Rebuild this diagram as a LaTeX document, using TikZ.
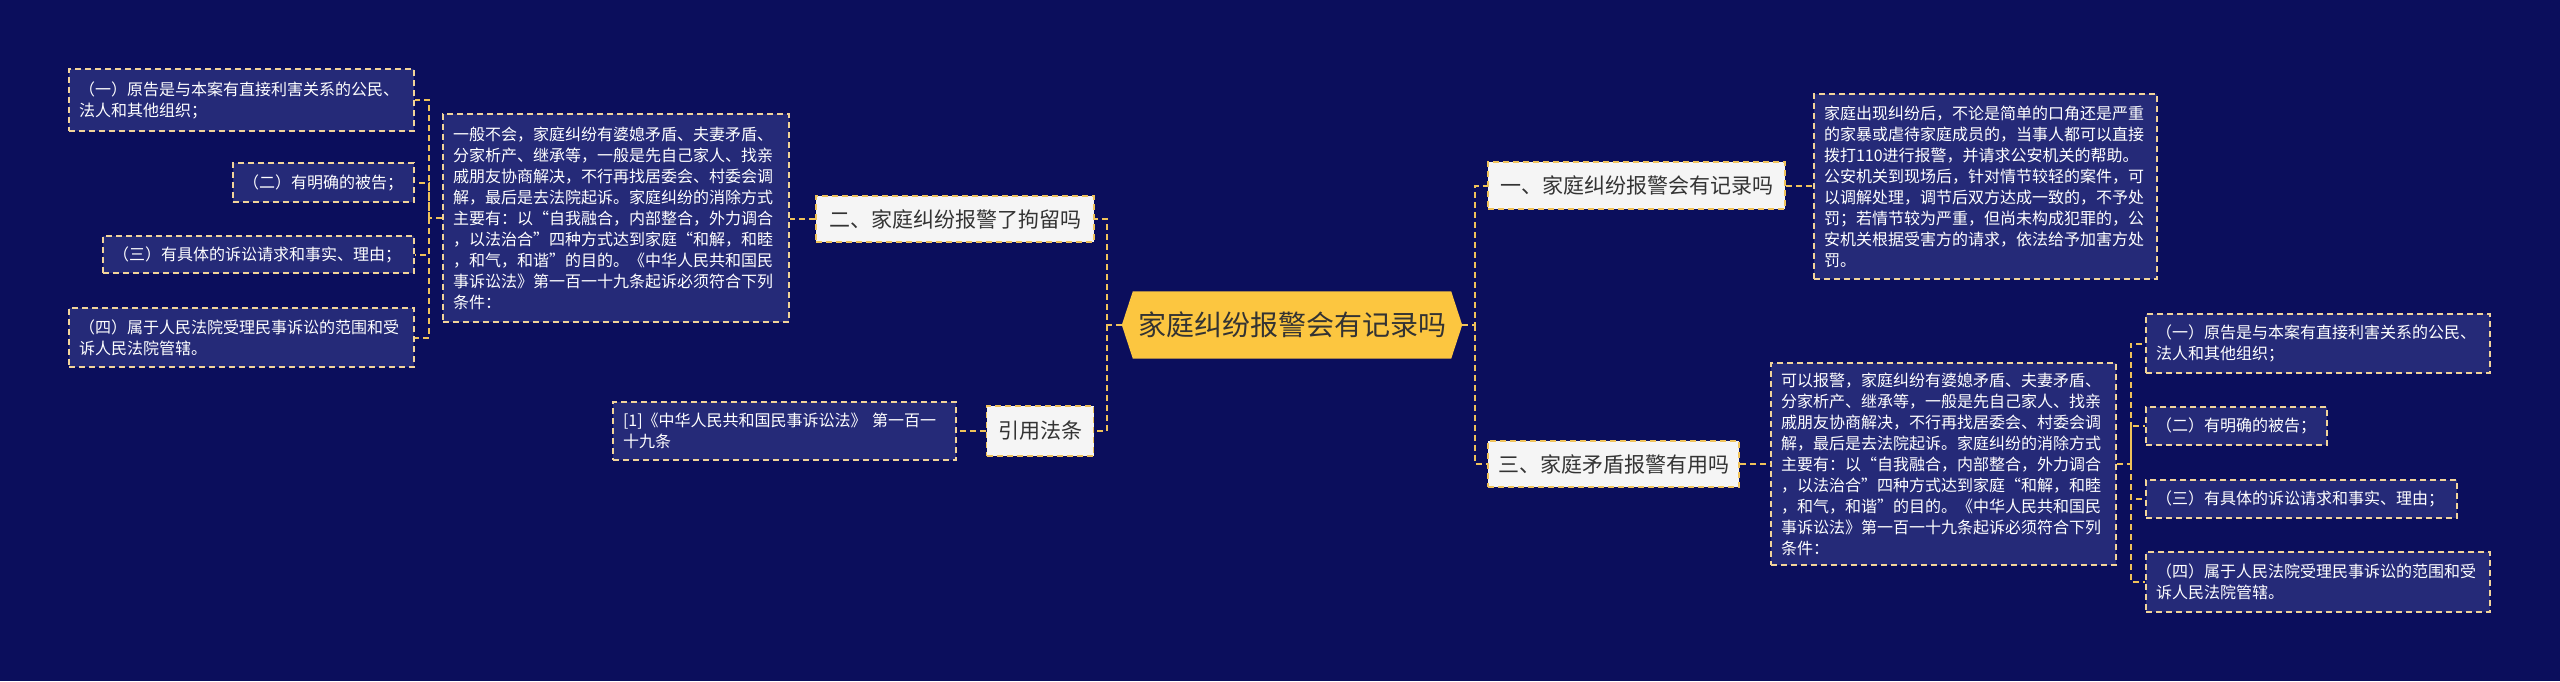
\documentclass[tikz,border=0pt]{standalone}
\usepackage{fontspec}
\setmainfont{Noto Sans CJK SC}
\usetikzlibrary{backgrounds}
\definecolor{bgc}{HTML}{0B0E5C}
\definecolor{boxc}{HTML}{252A78}
\definecolor{linec}{HTML}{EFC25A}
\definecolor{bordc}{HTML}{F2D49A}
\definecolor{goldc}{HTML}{FCC640}
\definecolor{lightc}{HTML}{F5F5F5}
\definecolor{darkt}{HTML}{333333}
\tikzset{
  conn/.style={draw=linec, line width=2pt, dash pattern=on 6pt off 4pt},
  txtbox/.style={draw=bordc, fill=boxc, line width=1.6pt, dash pattern=on 6pt off 4pt,
    text=white, align=left, inner xsep=10pt, inner ysep=0pt,
    font=\fontsize{16}{21}\selectfont},
  topic/.style={draw=linec, fill=lightc, line width=1.6pt, dash pattern=on 6pt off 4pt,
    text=darkt, align=center, inner sep=0pt,
    font=\fontsize{21}{26}\selectfont},
}
\begin{document}
\begin{tikzpicture}[x=1pt,y=-1pt]
\useasboundingbox (0,0) rectangle (2560,681);

% central
\node[inner sep=0pt, minimum width=340pt, minimum height=67pt, text=darkt,
  font=\fontsize{28}{34}\selectfont] (c) at (1292,325) {家庭纠纷报警会有记录吗};
\begin{scope}[on background layer]
\fill[bgc] (0,0) rectangle (2560,681);
\fill[goldc] (c.west) -- ([xshift=11pt]c.north west) -- ([xshift=-11pt]c.north east)
  -- (c.east) -- ([xshift=-11pt]c.south east) -- ([xshift=11pt]c.south west) -- cycle;
\end{scope}

% left side
\node[topic, minimum width=278pt, minimum height=46pt] (n2) at (955,219) {二、家庭纠纷报警了拘留吗};
\node[topic, minimum width=107pt, minimum height=50pt] (cite) at (1040,431) {引用法条};

\node[txtbox, text width=326pt, minimum height=208pt] (t2) at (616,218) {一般不会，家庭纠纷有婆媳矛盾、夫妻矛盾、\\分家析产、继承等，一般是先自己家人、找亲\\戚朋友协商解决，不行再找居委会、村委会调\\解，最后是去法院起诉。家庭纠纷的消除方式\\主要有：以“自我融合，内部整合，外力调合\\，以法治合”四种方式达到家庭“和解，和睦\\，和气，和谐”的目的。《中华人民共和国民\\事诉讼法》第一百一十九条起诉必须符合下列\\条件：};

\node[txtbox, text width=323pt, minimum height=58pt] (ref) at (784.5,431) {[1]《中华人民共和国民事诉讼法》 第一百一\\十九条};

\node[txtbox, text width=325pt, minimum height=62pt] (l1) at (241.5,100) {（一）原告是与本案有直接利害关系的公民、\\法人和其他组织；};
\node[txtbox, text width=161pt, minimum height=39pt] (l2) at (323.5,182.5) {（二）有明确的被告；};
\node[txtbox, text width=291pt, minimum height=37pt] (l3) at (258.5,254.5) {（三）有具体的诉讼请求和事实、理由；};
\node[txtbox, text width=325pt, minimum height=59pt] (l4) at (241.5,337.5) {（四）属于人民法院受理民事诉讼的范围和受\\诉人民法院管辖。};

% right side
\node[topic, minimum width=297pt, minimum height=47pt] (n1) at (1636.5,185.5) {一、家庭纠纷报警会有记录吗};
\node[topic, minimum width=251pt, minimum height=46pt] (n3) at (1613.5,464) {三、家庭矛盾报警有用吗};

\node[txtbox, text width=323pt, minimum height=185pt] (t1) at (1985.5,186.5) {家庭出现纠纷后，不论是简单的口角还是严重\\的家暴或虐待家庭成员的，当事人都可以直接\\拨打110进行报警，并请求公安机关的帮助。\\公安机关到现场后，针对情节较轻的案件，可\\以调解处理，调节后双方达成一致的，不予处\\罚；若情节较为严重，但尚未构成犯罪的，公\\安机关根据受害方的请求，依法给予加害方处\\罚。};

\node[txtbox, text width=325pt, minimum height=202pt] (t3) at (1943.5,464) {可以报警，家庭纠纷有婆媳矛盾、夫妻矛盾、\\分家析产、继承等，一般是先自己家人、找亲\\戚朋友协商解决，不行再找居委会、村委会调\\解，最后是去法院起诉。家庭纠纷的消除方式\\主要有：以“自我融合，内部整合，外力调合\\，以法治合”四种方式达到家庭“和解，和睦\\，和气，和谐”的目的。《中华人民共和国民\\事诉讼法》第一百一十九条起诉必须符合下列\\条件：};

\node[txtbox, text width=324pt, minimum height=59pt] (r1) at (2318,343.5) {（一）原告是与本案有直接利害关系的公民、\\法人和其他组织；};
\node[txtbox, text width=161pt, minimum height=38pt] (r2) at (2236.5,426) {（二）有明确的被告；};
\node[txtbox, text width=291pt, minimum height=38pt] (r3) at (2301.5,499) {（三）有具体的诉讼请求和事实、理由；};
\node[txtbox, text width=324pt, minimum height=60pt] (r4) at (2318,582) {（四）属于人民法院受理民事诉讼的范围和受\\诉人民法院管辖。};

% connectors
\coordinate (cl) at (1107,325);
\coordinate (cr) at (1475,325);
\draw[conn] (c.west) -- (cl) |- (n2.east);
\draw[conn] (cl) |- (cite.east);
\draw[conn] (c.east) -- (cr) |- (n1.west);
\draw[conn] (cr) |- (n3.west);

\draw[conn] (n2.west) -- (n2.west -| t2.east);
\draw[conn] (cite.west) -- (cite.west -| ref.east);
\draw[conn] (n1.east) -- (n1.east -| t1.west);
\draw[conn] (n3.east) -- (n3.east -| t3.west);

\coordinate (ll) at (429,218);
\draw[conn] (t2.west) -- (ll) |- (l1.east);
\draw[conn] (ll) |- (l2.east);
\draw[conn] (ll) |- (l3.east);
\draw[conn] (ll) |- (l4.east);

\coordinate (rr) at (2131,464);
\draw[conn] (t3.east) -- (rr) |- (r1.west);
\draw[conn] (rr) |- (r2.west);
\draw[conn] (rr) |- (r3.west);
\draw[conn] (rr) |- (r4.west);
\end{tikzpicture}
\end{document}
